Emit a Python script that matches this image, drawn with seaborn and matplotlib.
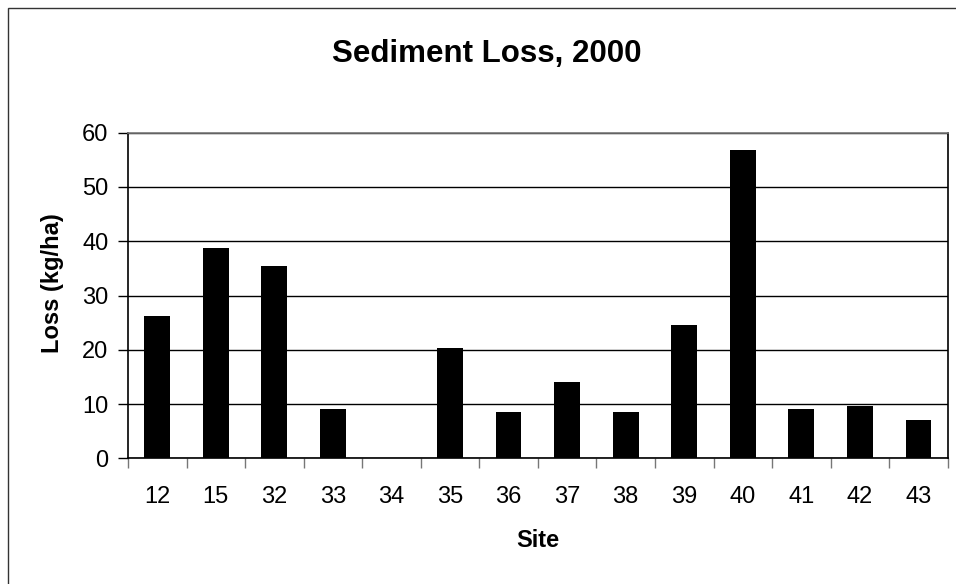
import matplotlib
matplotlib.use("Agg")
import matplotlib.pyplot as plt
import seaborn as sns
import pandas as pd
import numpy as np
from matplotlib.patches import Rectangle

sites = ["12", "15", "32", "33", "34", "35", "36", "37", "38", "39", "40", "41", "42", "43"]
loss = [26.3, 38.8, 35.5, 9.0, 0.0, 20.4, 8.6, 14.1, 8.6, 24.5, 56.9, 9.0, 9.7, 7.1]

df = pd.DataFrame({"Site": sites, "Loss": loss})

sns.set_theme(style="white")
plt.rcParams["font.family"] = ["Liberation Sans", "DejaVu Sans"]
plt.rcParams["text.color"] = "black"
plt.rcParams["axes.labelcolor"] = "black"
plt.rcParams["xtick.color"] = "black"
plt.rcParams["ytick.color"] = "black"

W, H = 956, 584
fig = plt.figure(figsize=(W / 100, H / 100), dpi=100)

# outer chart frame (cut off at right/bottom like the original)
fig.patches.append(Rectangle((8 / W, -0.05), 2.0, (H - 8) / H + 0.05, transform=fig.transFigure,
                             fill=False, edgecolor="#333333", linewidth=1.0))

left, right, top, bottom = 128, 947.7, 132.7, 458.3
ax = fig.add_axes([left / W, (H - bottom) / H, (right - left) / W, (bottom - top) / H])

sns.barplot(data=df, x="Site", y="Loss", color="black", width=0.44, saturation=1,
            linewidth=0, ax=ax, zorder=3)

ax.set_ylim(0, 60)
ax.set_xlim(-0.5, len(sites) - 0.5)
ax.set_yticks(np.arange(0, 61, 10))
ax.yaxis.grid(True, color="black", linewidth=1.0, zorder=0)
ax.set_axisbelow(True)

# labels at centers, tick marks between categories
ax.set_xticks(range(len(sites)))
ax.set_xticklabels(sites)
ax.set_xticks(np.arange(-0.5, len(sites), 1), minor=True)
ax.tick_params(axis="x", which="major", length=0, pad=20, labelsize=17, labelcolor="black")
ax.tick_params(axis="x", which="minor", length=7, width=1, color="#777777", direction="out", bottom=True)
ax.tick_params(axis="y", which="major", length=7, width=1, color="black", pad=7, labelsize=17,
               labelcolor="black", direction="out", left=True)

for side in ["left", "bottom", "right"]:
    ax.spines[side].set_color("black")
    ax.spines[side].set_linewidth(1.2)
ax.spines["top"].set_color("#777777")
ax.spines["top"].set_linewidth(1.2)

ax.set_xlabel("Site", fontsize=17, fontweight="bold", color="black")
ax.set_ylabel("Loss (kg/ha)", fontsize=17, fontweight="bold", color="black")
ax.xaxis.set_label_coords(0.5, (bottom - 529) / (bottom - top))
ax.yaxis.set_label_coords((64 - left) / (right - left), (bottom - 283) / (bottom - top))
fig.text(487 / W, 1 - 54 / H, "Sediment Loss, 2000", fontsize=22.5, fontweight="bold",
         ha="center", va="center", color="black")

fig.savefig("out.png", dpi=100)
